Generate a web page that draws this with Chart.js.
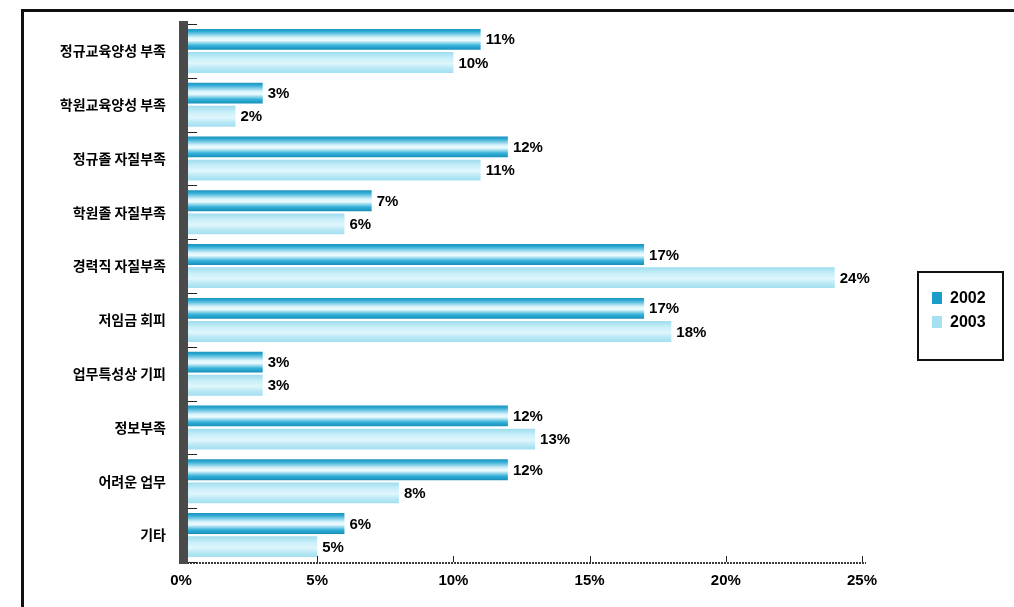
<!DOCTYPE html>
<html lang="ko">
<head>
<meta charset="UTF-8">
<title>인력 부족 원인 (2002, 2003)</title>
<style>
    html, body { margin: 0; padding: 0; background: #fff; }
    #wrap { position: relative; width: 1014px; height: 607px; overflow: hidden; }
    #frame { position: absolute; left: 21px; top: 9px; width: 1100px; height: 700px;
             border-left: 3px solid #111; border-top: 3px solid #111; }
    #chart { position: absolute; left: 0; top: 0; }
</style>
</head>
<body>
<div id="wrap">
    <div id="frame"></div>
    <canvas id="chart" width="1014" height="607"></canvas>
</div>
<script src="https://cdn.jsdelivr.net/npm/chart.js"></script>
<script>
    // 항목
    const categories = [
        '정규교육양성 부족',
        '학원교육양성 부족',
        '정규졸 자질부족',
        '학원졸 자질부족',
        '경력직 자질부족',
        '저임금 회피',
        '업무특성상 기피',
        '정보부족',
        '어려운 업무',
        '기타'
    ];
    const seriesNames = ['2002', '2003'];
    const values2002 = [11, 3, 12, 7, 17, 17, 3, 12, 12, 6];
    const values2003 = [10, 2, 11, 6, 24, 18, 3, 13, 8, 5];
    const xTicks = [0, 5, 10, 15, 20, 25];

    const CAT_PCT = 0.86;
    const BAR_PCT = 0.9;
    const FONT = "'Noto Sans CJK KR', 'Noto Sans', sans-serif";
    const NUM_FONT = "'Liberation Sans', Arial, sans-serif";

    const fill2002 = [[0, '#1b93bd'], [0.12, '#2eaad4'], [0.42, '#d9f4fb'], [0.55, '#eefbfe'], [0.8, '#34b1d9'], [1, '#168fba']];
    const fill2003 = [[0, '#9edcee'], [0.3, '#c9eff9'], [0.55, '#e0f6fc'], [0.8, '#b6e7f4'], [1, '#a3dff0']];

    // 막대마다 세로 그라데이션
    function barFill(stops, solid) {
        return function (ctx) {
            const chart = ctx.chart;
            const ys = chart.scales && chart.scales.y;
            if (ctx.type !== 'data' || !ys) return solid;
            const cat = (ys.bottom - ys.top) / categories.length;
            const slot = cat * CAT_PCT / 2;
            const center = ys.getPixelForValue(ctx.dataIndex) - cat * CAT_PCT / 2 + slot * (ctx.datasetIndex + 0.5);
            const h = slot * BAR_PCT;
            if (!isFinite(center) || !isFinite(h) || h <= 0) return solid;
            const g = chart.ctx.createLinearGradient(0, center - h / 2, 0, center + h / 2);
            stops.forEach(s => g.addColorStop(s[0], s[1]));
            return g;
        };
    }

    function line(ctx, x1, y1, x2, y2) {
        ctx.beginPath();
        ctx.moveTo(x1, y1);
        ctx.lineTo(x2, y2);
        ctx.stroke();
    }

    // 축, 눈금, 값 라벨, 범례
    const decor = {
        id: 'decor',
        afterDatasetsDraw(chart) {
            const { ctx, chartArea: a, scales: { x } } = chart;
            ctx.save();

            ctx.strokeStyle = '#3a3a3a';
            ctx.lineWidth = 2;
            ctx.setLineDash([2, 1]);
            line(ctx, a.left, a.bottom + 1, a.right + 4, a.bottom + 1);
            ctx.setLineDash([]);

            ctx.lineWidth = 1;
            ctx.strokeStyle = '#222';
            xTicks.forEach(v => {
                const px = Math.round(x.getPixelForValue(v)) + 0.5;
                line(ctx, px, a.bottom - 6, px, a.bottom);
            });
            for (let i = 0; i <= categories.length; i++) {
                const py = Math.round(a.top + i * (a.bottom - a.top) / categories.length) + 0.5;
                line(ctx, a.left + 7, py, a.left + 16, py);
            }

            ctx.fillStyle = '#4a4a4a';
            ctx.fillRect(a.left - 2, a.top - 3, 9, a.bottom - a.top + 5);

            ctx.font = 'bold 15px ' + NUM_FONT;
            ctx.fillStyle = '#000';
            ctx.textBaseline = 'middle';
            ctx.textAlign = 'left';
            chart.data.datasets.forEach((ds, di) => {
                chart.getDatasetMeta(di).data.forEach((el, i) => {
                    ctx.fillText(ds.data[i] + '%', el.x + 5, el.y + 1);
                });
            });

            // 범례
            const lx = 918, ly = 272, lw = 85, lh = 88;
            ctx.lineWidth = 2;
            ctx.strokeStyle = '#111';
            ctx.strokeRect(lx, ly, lw, lh);
            const swatch = ['#1a9ec7', '#a6e1f0'];
            ctx.font = 'bold 16px ' + NUM_FONT;
            seriesNames.forEach((name, i) => {
                const cy = ly + 26 + i * 24;
                ctx.fillStyle = swatch[i];
                ctx.fillRect(lx + 14, cy - 6, 10, 12);
                ctx.fillStyle = '#000';
                ctx.fillText(name, lx + 32, cy + 1);
            });
            ctx.restore();
        }
    };

    const chart = new Chart(document.getElementById('chart'), {
        type: 'bar',
        data: {
            labels: categories,
            datasets: [
                { label: seriesNames[0], data: values2002, backgroundColor: barFill(fill2002, '#1a9ec7') },
                { label: seriesNames[1], data: values2003, backgroundColor: barFill(fill2003, '#a6e1f0') }
            ]
        },
        options: {
            indexAxis: 'y',
            responsive: false,
            animation: false,
            categoryPercentage: CAT_PCT,
            barPercentage: BAR_PCT,
            layout: { padding: { left: 0, top: 24, right: 152, bottom: 0 } },
            plugins: {
                legend: { display: false },
                tooltip: { enabled: false }
            },
            scales: {
                x: {
                    min: 0,
                    max: 25,
                    afterBuildTicks: s => { s.ticks = xTicks.map(v => ({ value: v })); },
                    afterFit: s => { s.height = 607 - 562; },
                    grid: { display: false, drawTicks: false },
                    border: { display: false },
                    ticks: {
                        padding: 10,
                        color: '#000',
                        font: { family: NUM_FONT, size: 15, weight: 'bold' },
                        callback: v => v + '%'
                    }
                },
                y: {
                    afterFit: s => { s.width = 181; },
                    grid: { display: false, drawTicks: false },
                    border: { display: false },
                    ticks: {
                        padding: 15,
                        color: '#000',
                        font: { family: FONT, size: 14, weight: 'bold' }
                    }
                }
            }
        },
        plugins: [decor]
    });
    chart.update();
</script>
</body>
</html>
